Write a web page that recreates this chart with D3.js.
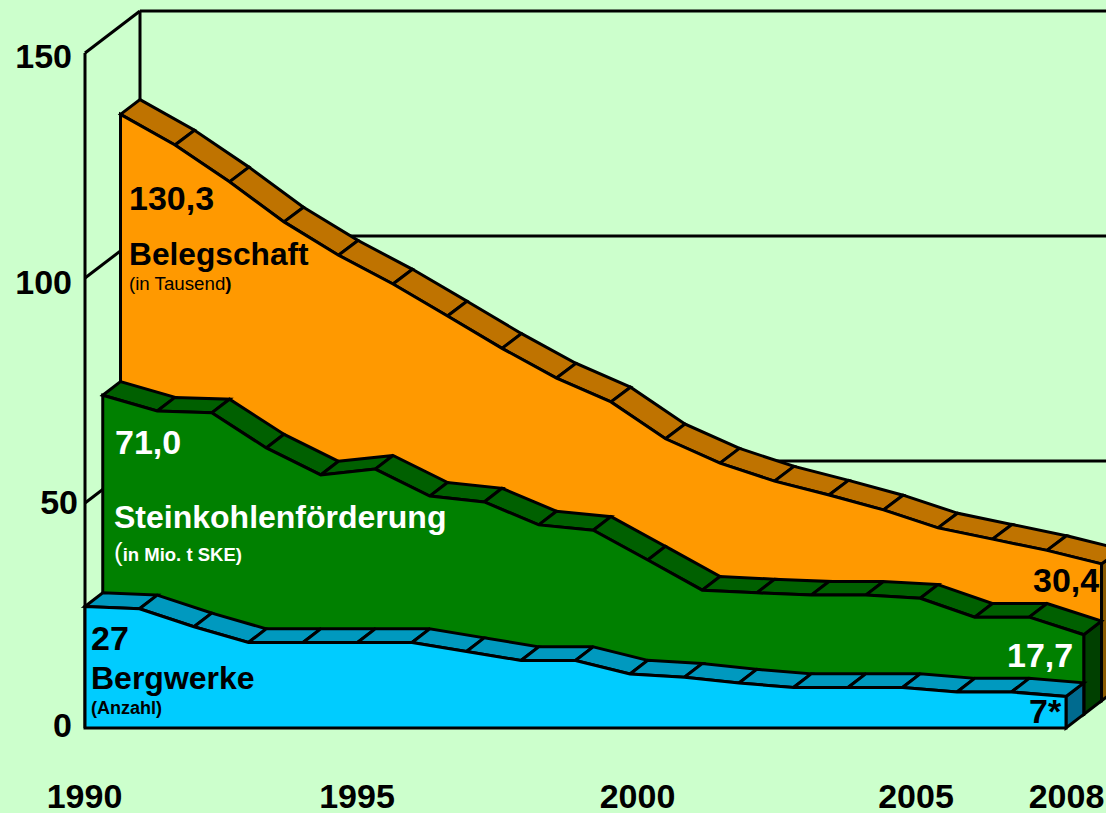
<!DOCTYPE html>
<html>
<head>
<meta charset="utf-8">
<script src="https://cdn.jsdelivr.net/npm/d3@7"></script>
<style>
  html, body { margin: 0; padding: 0; background: #ccffcc; overflow: hidden; }
  svg { display: block; }
  text { font-family: "Liberation Sans", Arial, sans-serif; }
  .tick text { font-weight: bold; font-size: 34px; fill: #000; }
</style>
</head>
<body>
<div class="chart"></div>
<script>
// values, one per year
var years = [1990, 1991, 1992, 1993, 1994, 1995, 1996, 1997, 1998, 1999,
             2000, 2001, 2002, 2003, 2004, 2005, 2006, 2007, 2008];
var belegschaft = [130.3, 123.5, 115.3, 106.4, 99.0, 92.6, 85.5, 78.3, 71.7, 66.4,
                   58.2, 52.8, 48.8, 45.7, 42.4, 38.4, 35.9, 33.4, 30.4];
var foerderung = [70.9, 67.4, 67.0, 59.2, 53.2, 54.5, 48.5, 47.2, 42.1, 40.9,
                  34.3, 27.6, 27.0, 26.5, 26.5, 25.8, 21.6, 21.6, 17.7];
var bergwerke = [27, 26.5, 22.5, 19, 19, 19, 19, 17, 15, 15,
                 12, 11.3, 10, 9, 9, 9, 8, 8, 7];
var yTicks = [0, 50, 100, 150];
var xTicks = [1990, 1995, 2000, 2005, 2008];

var width = 1106, height = 813;

var svg = d3.select(".chart").append("svg")
    .attr("width", width)
    .attr("height", height);

var x = d3.scaleLinear().domain([1990, 2008]).range([85, 1066]);
var y = d3.scaleLinear().domain([0, 150]).range([728, 53]);

// the depth of the fake 3d box, three layers deep (last layer is a bit deeper)
var depthX = d3.scaleLinear().domain([0, 2, 3]).range([0, 35.5, 55]);
var depthY = d3.scaleLinear().domain([0, 2, 3]).range([0, -27.3, -42]);

function project(year, value, depth) {
    return [x(year) + depthX(depth), y(value) + depthY(depth)];
}

function poly(points) {
    return "M" + points.map(function (p) { return p.join(","); }).join("L") + "Z";
}

function outline(sel) {
    return sel.attr("stroke", "#000")
        .attr("stroke-width", 3)
        .attr("stroke-linejoin", "miter")
        .attr("stroke-miterlimit", 3);
}

// walls
var walls = svg.append("g");
yTicks.slice(1).forEach(function (t) {
    outline(walls.append("line"))
        .attr("x1", project(1990, t, 3)[0]).attr("y1", project(1990, t, 3)[1])
        .attr("x2", project(2008, t, 3)[0]).attr("y2", project(2008, t, 3)[1]);
    outline(walls.append("line"))
        .attr("x1", project(1990, t, 0)[0]).attr("y1", project(1990, t, 0)[1])
        .attr("x2", project(1990, t, 3)[0]).attr("y2", project(1990, t, 3)[1]);
});
outline(walls.append("line"))
    .attr("x1", x(1990)).attr("y1", y(0))
    .attr("x2", x(1990)).attr("y2", y(150));
outline(walls.append("line"))
    .attr("x1", project(1990, 0, 3)[0]).attr("y1", project(1990, 0, 3)[1])
    .attr("x2", project(1990, 150, 3)[0]).attr("y2", project(1990, 150, 3)[1]);

// one layer: top strip cut per year, side face, then the front
function drawLayer(values, depth, colors) {
    var g = svg.append("g");
    var last = years.length - 1;

    outline(g.append("path"))
        .attr("fill", colors.side)
        .attr("d", poly([
            project(2008, values[last], depth),
            project(2008, values[last], depth + 1),
            project(2008, 0, depth + 1),
            project(2008, 0, depth)
        ]));

    g.selectAll("path.strip")
        .data(d3.pairs(d3.range(years.length)))
        .enter().append("path")
        .attr("class", "strip")
        .call(outline)
        .attr("fill", colors.top)
        .attr("d", function (d) {
            var a = d[0], b = d[1];
            return poly([
                project(years[a], values[a], depth),
                project(years[a], values[a], depth + 1),
                project(years[b], values[b], depth + 1),
                project(years[b], values[b], depth)
            ]);
        });

    var front = years.map(function (yr, i) { return project(yr, values[i], depth); });
    front.push(project(2008, 0, depth));
    front.push(project(1990, 0, depth));
    outline(g.append("path"))
        .attr("fill", colors.front)
        .attr("d", poly(front));
}

drawLayer(belegschaft, 2, { front: "#ff9900", top: "#bf7300", side: "#8a5a00" });
drawLayer(foerderung, 1, { front: "#008000", top: "#006000", side: "#004000" });
drawLayer(bergwerke, 0, { front: "#00ccff", top: "#0099bf", side: "#006b8f" });

// axes, only the labels are kept; the labels in the source sit a bit off the grid
var yNudge = { 0: [0, -2], 50: [6, 0], 100: [0, 5], 150: [0, 4] };
var xNudge = { 1990: -1, 1995: -1, 2000: 7, 2005: 13, 2008: 0 };

var yAxis = svg.append("g")
    .attr("transform", "translate(" + x(1990) + ",0)")
    .call(d3.axisLeft(y).tickValues(yTicks).tickSize(0).tickPadding(13));
yAxis.select(".domain").remove();
yAxis.selectAll(".tick text")
    .attr("transform", function (d) { return "translate(" + yNudge[d][0] + "," + yNudge[d][1] + ")"; });

var xAxis = svg.append("g")
    .attr("transform", "translate(0,782)")
    .call(d3.axisBottom(x).tickValues(xTicks).tickFormat(d3.format("d")).tickSize(0).tickPadding(0));
xAxis.select(".domain").remove();
xAxis.selectAll(".tick text")
    .attr("dy", 0)
    .attr("y", 26)
    .attr("transform", function (d) { return "translate(" + xNudge[d] + ",0)"; });

// labels inside the areas
function label(px, py, size, bold, color, str) {
    return svg.append("text")
        .attr("x", px).attr("y", py)
        .attr("font-size", size)
        .attr("font-weight", bold ? "bold" : "normal")
        .attr("fill", color)
        .text(str);
}

label(129, 210, 34, true, "#000", "130,3");
label(129, 265, 31.7, true, "#000", "Belegschaft");
var tausend = label(129, 290, 18.7, false, "#000", "(in Tausend");
tausend.append("tspan").attr("font-weight", "bold").text(")");
label(1033, 592, 34, true, "#000", "30,4");

label(115, 454, 34, true, "#fff", "71,0");
label(114, 528, 32, true, "#fff", "Steinkohlenförderung");
var mio = label(114, 561, 26, false, "#fff", "(");
mio.append("tspan").attr("font-size", 18.5).attr("font-weight", "bold").text("in Mio. t SKE)");
label(1007, 667, 34, true, "#fff", "17,7");

label(91, 650, 34, true, "#000", "27");
label(91, 689, 32, true, "#000", "Bergwerke");
label(91, 714, 18, true, "#000", "(Anzahl)");
label(1029, 723, 34, true, "#000", "7*");
</script>
</body>
</html>
